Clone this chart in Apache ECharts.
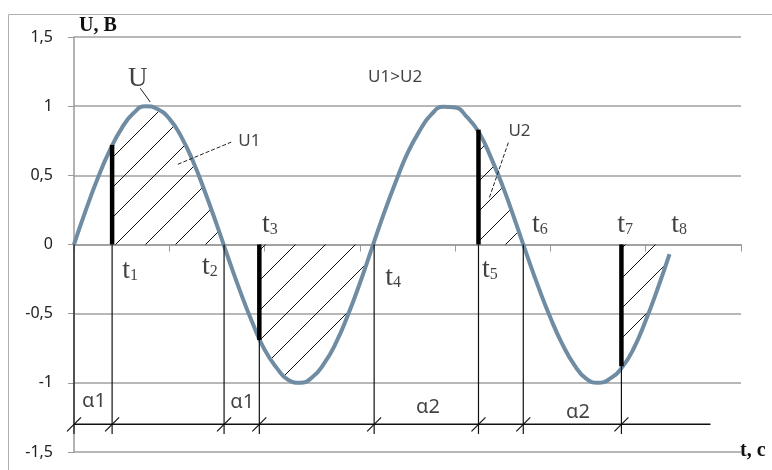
<!DOCTYPE html>
<html><head><meta charset="utf-8">
<script src="https://cdn.jsdelivr.net/npm/echarts@6/dist/echarts.min.js"></script>
<style>html,body{margin:0;padding:0;background:#fff}#c{width:772px;height:470px}</style>
</head><body><div id="c"></div>
<script>
// ---- data ----
const tValues = [0,0.25,0.5,0.75,1,1.25,1.5,1.75,2,2.25,2.5,2.75,3,3.25,3.5,3.75,4,4.25,4.5,4.75,5,5.25,5.5,5.75,6,6.25,6.5,6.75,7,7.25,7.5,7.75,8,8.25,8.5,8.75,9,9.25,9.5,9.75,10,10.25,10.5,10.75,11,11.25,11.5,11.75,12,12.25,12.5];
const uValues = [0,0.25,0.48,0.68,0.84,0.95,1.0,0.98,0.91,0.78,0.6,0.38,0.14,-0.11,-0.35,-0.57,-0.76,-0.89,-0.98,-1.0,-0.96,-0.86,-0.71,-0.51,-0.28,-0.03,0.22,0.45,0.66,0.82,0.94,0.995,0.99,0.92,0.81,0.63,0.42,0.18,-0.07,-0.31,-0.53,-0.72,-0.87,-0.97,-1.0,-0.97,-0.89,-0.75,-0.55,-0.32,-0.07];
// marked instants t1..t7 (with the origin) on the dimension line
const markTimes = [0, 0.8, 3.15, 3.89, 6.3, 8.49, 9.43, 11.49];
// thick bars at t1, t3, t5, t7 and their tops
const thickTimes = [0.8, 3.89, 8.49, 11.49];
const thickTops = [0.72, -0.69, 0.83, -0.88];
// hatched regions [start, startValue, end, endValue]
const regions = [[0.8,0.72,3.15,0],[3.89,-0.69,6.27,0],[8.49,0.83,9.43,0],[11.49,-0.88,12.5,-0.07]];
const dimLevel = -1.3, dimEnd = 13.36, dropBottom = -1.37;
const tLabels = [['1',1.18,-0.19],['2',2.85,-0.16],['3',4.11,0.14],['4',6.7,-0.24],['5',8.73,-0.18],['6',9.78,0.14],['7',11.57,0.14],['8',12.7,0.14]];
const alphaLabels = [['α1',0.42,-1.13],['α1',3.53,-1.14],['α2',7.43,-1.18],['α2',10.58,-1.21]];
const noteLabels = [['U1',3.68,0.75],['U2',9.35,0.82],['U1>U2',6.74,1.21]];
const xTicks = [0,14,2];
const yTicks = [-1.5,1.5,0.5];

// hatch pattern
const pc = document.createElement('canvas');
pc.width = 30; pc.height = 30;
const g = pc.getContext('2d');
g.strokeStyle = '#111'; g.lineWidth = 1;
g.beginPath();
g.moveTo(-2,32); g.lineTo(32,-2);
g.moveTo(-8,8); g.lineTo(8,-8);
g.moveTo(22,38); g.lineTo(38,22);
g.stroke();
const hatch = {image: pc, repeat: 'repeat'};

const curve = tValues.map((t,i)=>[t,uValues[i]]);
const regionSeries = regions.map(r=>{
  const d = [[r[0],r[1]]];
  tValues.forEach((t,i)=>{ if(t>r[0]+0.02 && t<r[2]-0.02) d.push([t,uValues[i]]); });
  d.push([r[2],r[3]]);
  return {type:'line', data:d, smooth:true, symbol:'none', silent:true,
    lineStyle:{width:0}, areaStyle:{color:hatch, opacity:1}, z:1};
});

const serif = '"Liberation Serif","Times New Roman",serif';
const sans = '"Noto Sans","Liberation Sans",Arial,sans-serif';

function textSeries(items, label){
  return {type:'scatter', data:items.map(a=>[a[1],a[2],a[0]]), symbolSize:1,
    itemStyle:{color:'rgba(0,0,0,0)'}, silent:true, z:10,
    label:Object.assign({show:true, position:'inside', color:'#111'}, label)};
}

const chart = echarts.init(document.getElementById('c'));
chart.setOption({
  animation:false,
  backgroundColor:'#fff',
  grid:{left:74,right:31,top:37,bottom:18,containLabel:false,outerBoundsMode:'none'},
  xAxis:{type:'value',min:xTicks[0],max:xTicks[1],interval:xTicks[2],
    axisLine:{onZero:true,lineStyle:{color:'#9a9a9a',width:1.5}},
    axisTick:{show:true,length:7,lineStyle:{color:'#9a9a9a'}},
    axisLabel:{margin:19,color:'#222',fontSize:16,fontFamily:sans},
    splitLine:{show:false}},
  yAxis:{type:'value',min:yTicks[0],max:yTicks[1],interval:yTicks[2],
    axisLine:{show:true,lineStyle:{color:'#9a9a9a',width:1.5}},
    axisTick:{show:true,length:6,lineStyle:{color:'#9a9a9a'}},
    axisLabel:{margin:21,color:'#222',fontSize:16,fontFamily:sans,formatter:v=>String(v).replace('.',',')},
    splitLine:{lineStyle:{color:'#a0a0a0',width:1.5}}},
  graphic:[
    {type:'rect',shape:{x:8.5,y:14.5,width:800,height:500},style:{fill:'none',stroke:'#b0b0b0',lineWidth:1},z:-10},
    {type:'text',left:79,top:16,style:{text:'U, B',font:'bold 20px '+serif,fill:'#111'},z:20},
    {type:'text',left:740,top:441,style:{text:'t, c',font:'bold 20px '+serif,fill:'#111'},z:20}
  ],
  series:[
    ...regionSeries,
    {type:'line',data:curve,smooth:true,symbol:'none',silent:true,
      lineStyle:{color:'#6f8ca3',width:4},z:5},
    // drop lines and slash ticks
    {type:'custom',silent:true,z:6,data:markTimes.map(t=>[t]),
      renderItem:(p,api)=>{
        const t=api.value(0);
        const a=api.coord([t,0]), b=api.coord([t,dropBottom]), c=api.coord([t,dimLevel]);
        return {type:'group',children:[
          {type:'line',shape:{x1:a[0],y1:a[1],x2:b[0],y2:b[1]},style:{stroke:'#111',lineWidth:1.2}},
          {type:'line',shape:{x1:c[0]-7,y1:c[1]+7,x2:c[0]+7,y2:c[1]-7},style:{stroke:'#111',lineWidth:1.2}}
        ]};
      }},
    // dimension line
    {type:'line',data:[[0,dimLevel],[dimEnd,dimLevel]],symbol:'none',silent:true,
      lineStyle:{color:'#111',width:1.5},z:6},
    // thick bars
    {type:'custom',silent:true,z:7,data:thickTimes.map((t,i)=>[t,thickTops[i]]),
      renderItem:(p,api)=>{
        const a=api.coord([api.value(0),0]), b=api.coord([api.value(0),api.value(1)]);
        return {type:'line',shape:{x1:a[0],y1:a[1],x2:b[0],y2:b[1]},style:{stroke:'#000',lineWidth:4.5}};
      }},
    // leader lines
    {type:'line',data:[[1.39,1.13],[1.6,1.03]],symbol:'none',silent:true,lineStyle:{color:'#222',width:1},z:8},
    {type:'line',data:[[2.18,0.58],[3.3,0.74]],symbol:'none',silent:true,lineStyle:{color:'#222',width:1,type:[4,2]},z:8},
    {type:'line',data:[[8.72,0.34],[9.13,0.75]],symbol:'none',silent:true,lineStyle:{color:'#222',width:1,type:[4,2]},z:8},
    // texts
    textSeries([['U',1.34,1.2]],{formatter:p=>p.data[2],fontFamily:serif,fontSize:27}),
    textSeries(tLabels,{formatter:p=>'{t|t}{s|'+p.data[2]+'}',
      rich:{t:{fontFamily:serif,fontSize:28,color:'#111',verticalAlign:'bottom'},
            s:{fontFamily:serif,fontSize:16,color:'#111',verticalAlign:'bottom',padding:[0,0,1,0]}}}),
    textSeries(alphaLabels,{formatter:p=>p.data[2],fontFamily:sans,fontSize:20}),
    textSeries(noteLabels,{formatter:p=>p.data[2],fontFamily:sans,fontSize:17})
  ]
});
</script></body></html>
